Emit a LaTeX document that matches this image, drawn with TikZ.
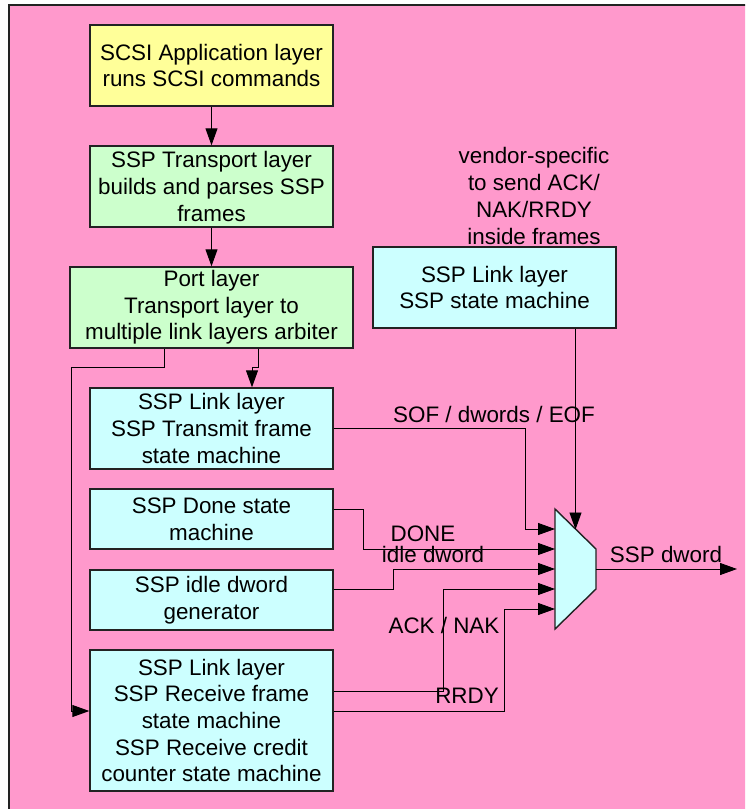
\documentclass[tikz,border=0pt]{standalone}
\usepackage{fontspec}
\setmainfont{Liberation Sans}
\usetikzlibrary{arrows.meta}
\definecolor{bgpink}{HTML}{FF99CC}
\definecolor{boxyellow}{HTML}{FFFF99}
\definecolor{boxgreen}{HTML}{CCFFCC}
\definecolor{boxcyan}{HTML}{CCFFFF}
\definecolor{edge}{HTML}{222222}
\begin{document}
\begin{tikzpicture}[x=1pt,y=-1pt,
  every node/.style={font=\fontsize{22.4}{26.7}\selectfont, inner sep=0pt},
  blk/.style={draw=edge, line width=1.4pt, align=center, minimum width=243pt},
  arr/.style={-{Triangle[length=17pt,width=12pt]}, line width=0.9pt},
  wire/.style={line width=0.9pt},
  lbl/.style={anchor=base}]
\useasboundingbox (0,0) rectangle (745,809);
\clip (0,0) rectangle (745,809);
\draw[draw=edge, line width=1.6pt, fill=bgpink] (9,5) rectangle (800,850);

% boxes
\node[blk, fill=boxyellow, minimum height=81pt] (app) at (211.5,65.5) {SCSI Application layer\\runs SCSI commands};
\node[blk, fill=boxgreen, minimum height=81pt] (trn) at (211.5,186.5) {SSP Transport layer\\builds and parses SSP\\frames};
\node[blk, fill=boxgreen, minimum height=81pt, minimum width=283pt] (port) at (211.5,307.5) {Port layer\\Transport layer to\\multiple link layers arbiter};
\node[blk, fill=boxcyan, minimum height=81pt] (tx) at (211.5,428.5) {SSP Link layer\\SSP Transmit frame\\state machine};
\node[blk, fill=boxcyan, minimum height=60pt] (done) at (211.5,519) {SSP Done state\\machine};
\node[blk, fill=boxcyan, minimum height=60pt] (idle) at (211.5,600) {SSP idle dword\\generator};
\node[blk, fill=boxcyan, minimum height=141pt] (rx) at (211.5,720.5) {SSP Link layer\\SSP Receive frame\\state machine\\SSP Receive credit\\counter state machine};
\node[blk, fill=boxcyan, minimum height=81pt] (lnk) at (494.5,287.5) {SSP Link layer\\SSP state machine};

\node[align=center] (vend) at (534,196) {vendor-specific\\to send ACK/\\NAK/RRDY\\inside frames};

% multiplexer
\coordinate (m1) at (555,509);
\coordinate (m2) at (596,549);
\coordinate (m3) at (596,589);
\coordinate (m4) at (555,629);
\draw[draw=edge, line width=1.4pt, fill=boxcyan] (m1) -- (m2) -- (m3) -- (m4) -- cycle;
\coordinate (in1) at (555,529);
\coordinate (in2) at (555,549);
\coordinate (in3) at (555,569);
\coordinate (in4) at (555,589);
\coordinate (in5) at (555,609);
\coordinate (mtop) at (575.5,529.5);
\coordinate (mout) at (596,569);
\coordinate (outend) at (737,569);

% connectors
\draw[arr] (app.south) -- (trn.north);
\draw[arr] (trn.south) -- (port.north);
\draw[arr] ([xshift=46.5pt]port.south) -- ++(0,19) -- ++(-6,0) -- ([xshift=40.5pt]tx.north);
\draw[arr] ([xshift=-47.5pt]port.south) -- ++(0,19) -- ++(-93,0) |- ([yshift=9.5pt]rx.west);
\draw[arr] (tx.east) -- ++(192,0) |- (in1);
\draw[arr] ([yshift=10pt]done.east) -- ++(30,0) |- (in2);
\draw[arr] ([yshift=11pt]idle.east) -- ++(60,0) |- (in3);
\draw[arr] ([yshift=29.5pt]rx.east) -- ++(110,0) |- (in4);
\draw[arr] ([yshift=9.5pt]rx.east) -- ++(171,0) |- (in5);
\draw[arr] ([xshift=81pt]lnk.south) -- (mtop);
\draw[arr] (mout) -- (outend);

% labels
\node[lbl] (lsof) at (494,422) {SOF / dwords / EOF};
\node[lbl] (ldone) at (423,541) {DONE};
\node[lbl] (lidle) at (433,562.5) {idle dword};
\node[lbl] (lout) at (666,562) {SSP dword};
\node[lbl] (lack) at (444,633) {ACK / NAK};
\node[lbl] (lrrdy) at (467,703) {RRDY};
\end{tikzpicture}
\end{document}
